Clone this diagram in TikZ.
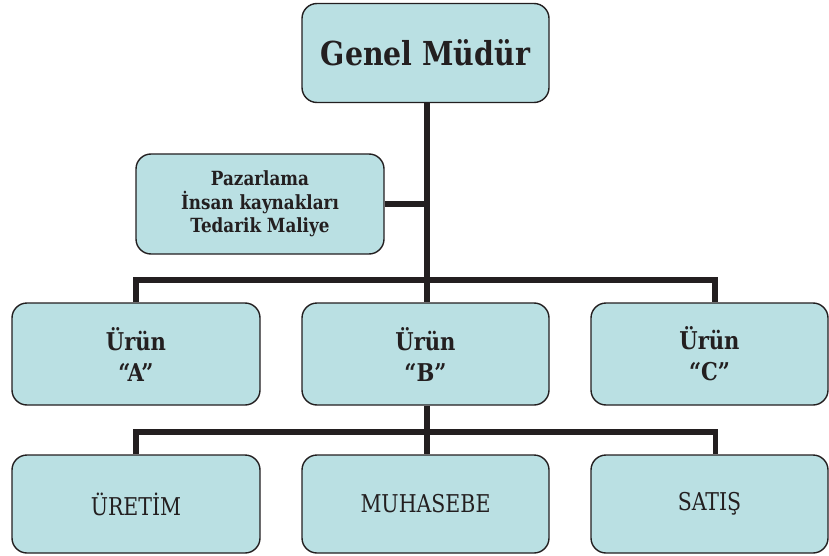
\documentclass[tikz,border=0pt]{standalone}
\usepackage{fontspec}
\setmainfont{DejaVu Serif}[FakeStretch=0.86]
\newfontfamily\condserif{DejaVu Serif Condensed}[FakeStretch=0.93]
\definecolor{boxfill}{HTML}{BAE0E3}
\definecolor{ink}{HTML}{231F20}
\tikzset{
  unit/.style={draw=ink, line width=1.4pt, fill=boxfill, rounded corners=15pt,
    align=center, text=ink, inner sep=0pt},
  headfont/.style={font=\bfseries\fontsize{33}{38}\selectfont},
  stafffont/.style={font=\bfseries\fontsize{19.5}{23.5}\selectfont},
  prodfont/.style={font=\bfseries\fontsize{24.5}{31}\selectfont},
  funcfont/.style={font=\condserif\fontsize{24.5}{28}\selectfont},
  wire/.style={draw=ink, line width=5.5pt},
}
\begin{document}
\begin{tikzpicture}[x=1pt, y=-1pt]
\useasboundingbox (0,0) rectangle (829,556);

% top management
\node[unit, headfont, minimum width=247pt, minimum height=99pt]
  (gm) at (425.5,53) {Genel Müdür};

% staff unit
\node[unit, stafffont, minimum width=248pt, minimum height=100pt]
  (pz) at (260,204) {Pazarlama\\İnsan kaynakları\\Tedarik Maliye};

% product divisions
\node[unit, prodfont, minimum width=248pt, minimum height=102pt]
  (pa) at (136,354) {Ürün\\“A”};
\node[unit, prodfont, minimum width=247pt, minimum height=102pt]
  (pb) at (425.5,354) {Ürün\\“B”};
\node[unit, prodfont, minimum width=237pt, minimum height=102pt]
  (pc) at (709.5,354) {Ürün\\“C”};

% functions
\node[unit, funcfont, minimum width=248pt, minimum height=98pt]
  (fu) at (136,504) {ÜRETİM};
\node[unit, funcfont, minimum width=247pt, minimum height=98pt]
  (fm) at (425.5,504) {MUHASEBE};
\node[unit, funcfont, minimum width=237pt, minimum height=98pt]
  (fs) at (709.5,504) {SATIŞ};

% connectors
\coordinate (bus1) at (427,280);
\coordinate (bus2) at (427,432);
\path[wire] (gm.south -| bus1) -- (pb.north -| bus1);
\path[wire] (pz.east) -- (pz.east -| bus1);
\path[wire] (pa.north) |- (bus1) -| ([xshift=5.5pt]pc.north);
\path[wire] (pb.south -| bus2) -- (fm.north -| bus2);
\path[wire] (fu.north) |- (bus2) -| ([xshift=6pt]fs.north);
\end{tikzpicture}
\end{document}
